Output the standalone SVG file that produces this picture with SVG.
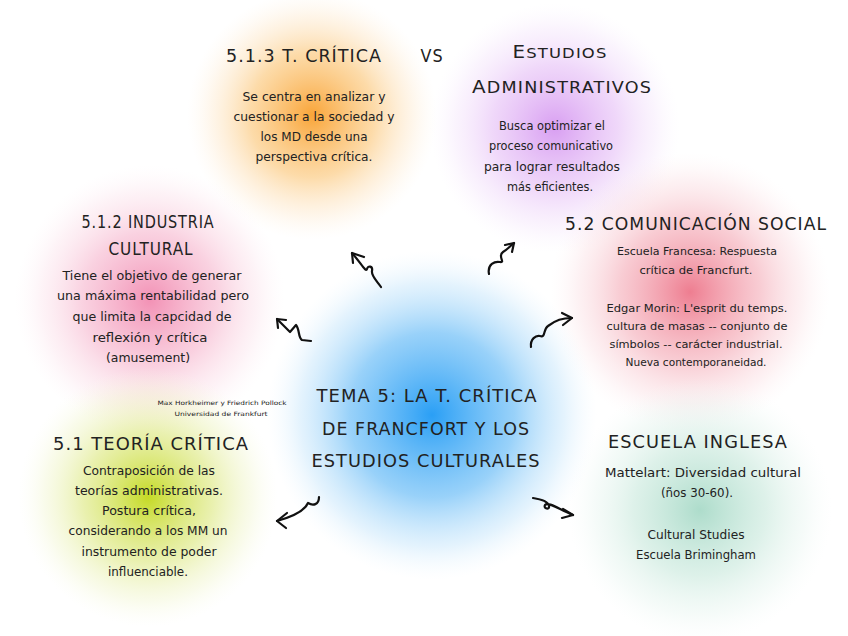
<svg xmlns="http://www.w3.org/2000/svg" width="848" height="636" viewBox="0 0 848 636">
<style>
text{font-family:"DejaVu Sans","Liberation Sans",sans-serif;fill:#222;text-anchor:middle}
.h{font-size:17px;letter-spacing:1px}
.b{font-size:12px}
.s{font-size:10.5px}
.t{font-size:6px}
.c path{fill:none;stroke:#111;stroke-width:2.2;stroke-linecap:round;stroke-linejoin:round}
</style>
<defs>
<radialGradient id="gO"><stop offset="0" stop-color="#f9a02e" stop-opacity="0.95"/><stop offset="0.5" stop-color="#fbc370" stop-opacity="0.6"/><stop offset="0.8" stop-color="#fde0b8" stop-opacity="0.3"/><stop offset="1" stop-color="#fdf0de" stop-opacity="0"/></radialGradient>
<radialGradient id="gP"><stop offset="0" stop-color="#d494f0" stop-opacity="0.9"/><stop offset="0.5" stop-color="#e5bdf6" stop-opacity="0.6"/><stop offset="0.8" stop-color="#f0dafa" stop-opacity="0.3"/><stop offset="1" stop-color="#f8effd" stop-opacity="0"/></radialGradient>
<radialGradient id="gK"><stop offset="0" stop-color="#f07ea8" stop-opacity="0.85"/><stop offset="0.5" stop-color="#f6b3cc" stop-opacity="0.6"/><stop offset="0.8" stop-color="#fad6e3" stop-opacity="0.3"/><stop offset="1" stop-color="#fdeef4" stop-opacity="0"/></radialGradient>
<radialGradient id="gR"><stop offset="0" stop-color="#ec6f84" stop-opacity="0.9"/><stop offset="0.5" stop-color="#f4aab6" stop-opacity="0.6"/><stop offset="0.8" stop-color="#f9d2d8" stop-opacity="0.3"/><stop offset="1" stop-color="#fdeef0" stop-opacity="0"/></radialGradient>
<radialGradient id="gB"><stop offset="0" stop-color="#2a9ff5" stop-opacity="1"/><stop offset="0.5" stop-color="#7fc6f8" stop-opacity="0.8"/><stop offset="0.8" stop-color="#c2e4fb" stop-opacity="0.45"/><stop offset="1" stop-color="#eaf6fe" stop-opacity="0"/></radialGradient>
<radialGradient id="gY"><stop offset="0" stop-color="#c2d81a" stop-opacity="0.95"/><stop offset="0.5" stop-color="#dbe77a" stop-opacity="0.6"/><stop offset="0.8" stop-color="#ecf2bc" stop-opacity="0.3"/><stop offset="1" stop-color="#f8fbe6" stop-opacity="0"/></radialGradient>
<radialGradient id="gG"><stop offset="0" stop-color="#9fd6c2" stop-opacity="0.85"/><stop offset="0.5" stop-color="#c7e8db" stop-opacity="0.6"/><stop offset="0.8" stop-color="#e0f2eb" stop-opacity="0.3"/><stop offset="1" stop-color="#f2faf7" stop-opacity="0"/></radialGradient>
</defs>
<rect width="848" height="636" fill="#ffffff"/>
<g id="blobs">
<circle cx="312" cy="115" r="125" fill="url(#gO)"/>
<circle cx="555" cy="128" r="125" fill="url(#gP)"/>
<circle cx="150" cy="300" r="135" fill="url(#gK)"/>
<circle cx="690" cy="292" r="140" fill="url(#gR)"/>
<circle cx="148" cy="497" r="130" fill="url(#gY)"/>
<circle cx="700" cy="510" r="132" fill="url(#gG)"/>
<circle cx="432" cy="415" r="165" fill="url(#gB)"/>
</g>
<g id="node-tcritica">
<text class="h" x="304" y="62" textLength="156" lengthAdjust="spacingAndGlyphs">5.1.3 T. CRÍTICA</text>
<text class="b" x="314" y="101" textLength="143" lengthAdjust="spacingAndGlyphs">Se centra en analizar y</text>
<text class="b" x="314" y="121" textLength="161" lengthAdjust="spacingAndGlyphs">cuestionar a la sociedad y</text>
<text class="b" x="314" y="141" textLength="107" lengthAdjust="spacingAndGlyphs">los MD desde una</text>
<text class="b" x="314" y="161" textLength="117" lengthAdjust="spacingAndGlyphs">perspectiva crítica.</text>
</g>
<g id="node-vs">
<text class="h" x="432" y="62" textLength="23" lengthAdjust="spacingAndGlyphs">VS</text>
</g>
<g id="node-administrativos">
<text class="h" x="560" y="58" textLength="95" lengthAdjust="spacingAndGlyphs">E<tspan font-size="14">STUDIOS</tspan></text>
<text class="h" x="562" y="93" textLength="180" lengthAdjust="spacingAndGlyphs">A<tspan font-size="15">DMINISTRATIVOS</tspan></text>
<text class="b" x="552" y="130" textLength="106" lengthAdjust="spacingAndGlyphs">Busca optimizar el</text>
<text class="b" x="551" y="150" textLength="124" lengthAdjust="spacingAndGlyphs">proceso comunicativo</text>
<text class="b" x="552" y="171" textLength="136" lengthAdjust="spacingAndGlyphs">para lograr resultados</text>
<text class="b" x="550" y="191" textLength="86" lengthAdjust="spacingAndGlyphs">más eficientes.</text>
</g>
<g id="node-industria">
<text class="h" x="148" y="228" textLength="133" lengthAdjust="spacingAndGlyphs">5.1.2 INDUSTRIA</text>
<text class="h" x="151" y="255" textLength="85" lengthAdjust="spacingAndGlyphs">CULTURAL</text>
<text class="b" x="152" y="280" textLength="179" lengthAdjust="spacingAndGlyphs">Tiene el objetivo de generar</text>
<text class="b" x="153" y="300" textLength="192" lengthAdjust="spacingAndGlyphs">una máxima rentabilidad pero</text>
<text class="b" x="152" y="321" textLength="159" lengthAdjust="spacingAndGlyphs">que limita la capcidad de</text>
<text class="b" x="150" y="342" textLength="115" lengthAdjust="spacingAndGlyphs">reflexión y crítica</text>
<text class="b" x="148" y="362" textLength="84" lengthAdjust="spacingAndGlyphs">(amusement)</text>
</g>
<g id="node-comunicacion">
<text class="h" x="696" y="230" textLength="262" lengthAdjust="spacingAndGlyphs">5.2 COMUNICACIÓN SOCIAL</text>
<text class="s" x="697" y="255" textLength="160" lengthAdjust="spacingAndGlyphs">Escuela Francesa: Respuesta</text>
<text class="s" x="696" y="274" textLength="113" lengthAdjust="spacingAndGlyphs">crítica de Francfurt.</text>
<text class="s" x="697" y="312" textLength="181" lengthAdjust="spacingAndGlyphs">Edgar Morin: L'esprit du temps.</text>
<text class="s" x="697" y="330" textLength="181" lengthAdjust="spacingAndGlyphs">cultura de masas -- conjunto de</text>
<text class="s" x="696" y="348" textLength="173" lengthAdjust="spacingAndGlyphs">símbolos -- carácter industrial.</text>
<text class="s" x="696" y="366" textLength="141" lengthAdjust="spacingAndGlyphs">Nueva contemporaneidad.</text>
</g>
<g id="node-autores">
<text class="t" x="222" y="405" textLength="129" lengthAdjust="spacingAndGlyphs">Max Horkheimer y Friedrich Pollock</text>
<text class="t" x="221" y="416" textLength="93" lengthAdjust="spacingAndGlyphs">Universidad de Frankfurt</text>
</g>
<g id="node-tema">
<text class="h" x="427" y="402" textLength="221" lengthAdjust="spacingAndGlyphs">TEMA 5: LA T. CRÍTICA</text>
<text class="h" x="426" y="435" textLength="208" lengthAdjust="spacingAndGlyphs">DE FRANCFORT Y LOS</text>
<text class="h" x="426" y="467" textLength="229" lengthAdjust="spacingAndGlyphs">ESTUDIOS CULTURALES</text>
</g>
<g id="node-teoria">
<text class="h" x="151" y="450" textLength="196" lengthAdjust="spacingAndGlyphs">5.1 TEORÍA CRÍTICA</text>
<text class="b" x="149" y="475" textLength="132" lengthAdjust="spacingAndGlyphs">Contraposición de las</text>
<text class="b" x="149" y="495" textLength="148" lengthAdjust="spacingAndGlyphs">teorías administrativas.</text>
<text class="b" x="149" y="515" textLength="94" lengthAdjust="spacingAndGlyphs">Postura crítica,</text>
<text class="b" x="148" y="535" textLength="159" lengthAdjust="spacingAndGlyphs">considerando a los MM un</text>
<text class="b" x="149" y="556" textLength="135" lengthAdjust="spacingAndGlyphs">instrumento de poder</text>
<text class="b" x="148" y="576" textLength="80" lengthAdjust="spacingAndGlyphs">influenciable.</text>
</g>
<g id="node-inglesa">
<text class="h" x="698" y="448" textLength="180" lengthAdjust="spacingAndGlyphs">ESCUELA INGLESA</text>
<text class="b" x="703" y="477" textLength="196" lengthAdjust="spacingAndGlyphs">Mattelart: Diversidad cultural</text>
<text class="b" x="697" y="497" textLength="72" lengthAdjust="spacingAndGlyphs">(ños 30-60).</text>
<text class="b" x="696" y="539" textLength="97" lengthAdjust="spacingAndGlyphs">Cultural Studies</text>
<text class="b" x="696" y="559" textLength="120" lengthAdjust="spacingAndGlyphs">Escuela Brimingham</text>
</g>
<g id="connectors" class="c">
<path d="M381,287 C377,281 371,276 372,271 C373,266 368,265 367,269 C366,273 361,263 352,253"/>
<path d="M353,263 L352,253 L364,257"/>
<path d="M489,274 C487,264 495,261 500,262 C506,263 497,256 503,252 C508,249 507,249 514,243"/>
<path d="M505,245 L514,243 L512,252"/>
<path d="M311,341 L302,340 C298,338 300,330 296,325 L290,332 L277,319"/>
<path d="M278,328 L277,319 L286,320"/>
<path d="M531,347 C530,339 536,335 540,336 C546,338 543,329 548,326 C556,320 562,318 572,318"/>
<path d="M562,313 L572,318 L563,325"/>
<path d="M319,497 C319,505 313,506 308,503 C305,510 295,516 277,521"/>
<path d="M287,513 L277,521 L286,528"/>
<path d="M533,498 C540,499 548,501 549,506 C550,510 543,509 545,505 C548,501 560,510 573,515"/>
<path d="M563,509 L573,515 L562,518"/>
</g>
</svg>
